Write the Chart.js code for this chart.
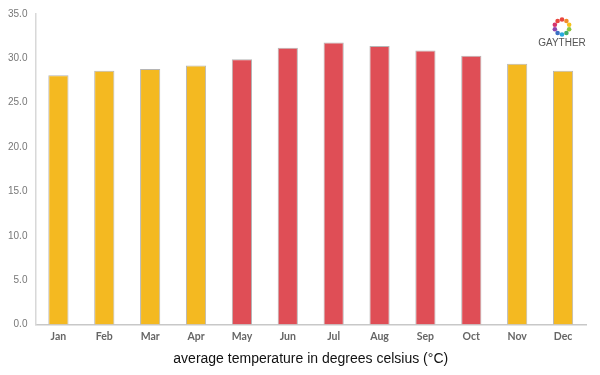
<!DOCTYPE html>
<html lang="en">
<head>
    <meta charset="UTF-8">
    <script src="https://cdn.jsdelivr.net/npm/chart.js"></script>
    <title>Average temperature</title>
    <style>
        body { margin: 0; background: #fff; }
        .canvas { width: 600px; height: 375px; }
    </style>
</head>
<body>
    <div class="canvas">
        <canvas id="grafico" width="600" height="375"></canvas>
    </div>
    <script>
        const meses = ["Jan", "Feb", "Mar", "Apr", "May", "Jun", "Jul", "Aug", "Sep", "Oct", "Nov", "Dec"];
        const temperaturas = [28.1, 28.6, 28.8, 29.2, 29.9, 31.2, 31.8, 31.4, 30.9, 30.3, 29.4, 28.6];
        const quentes = [false, false, false, false, true, true, true, true, true, true, false, false];
        const yTicks = [0, 5, 10, 15, 20, 25, 30, 35];

        const amarelo = '#F4B921';
        const vermelho = '#DF4E56';

        // logo in the top right corner
        const logo = {
            id: 'logo',
            afterDraw(chart) {
                const ctx = chart.ctx;
                const cx = 562, cy = 27;
                const cores = ['#e9463f', '#f28c28', '#f6c21c', '#8cc63f', '#3fae6a', '#29a9e0', '#3b6fc4', '#8e44ad', '#d6336c', '#e9463f'];
                ctx.save();
                for (let i = 0; i < 10; i++) {
                    const a = i / 10 * Math.PI * 2 - Math.PI / 2;
                    ctx.fillStyle = cores[i];
                    ctx.beginPath();
                    ctx.arc(cx + Math.cos(a) * 7.5, cy + Math.sin(a) * 7.5, 2.3, 0, Math.PI * 2);
                    ctx.fill();
                }
                ctx.fillStyle = '#555';
                ctx.font = '10px "Liberation Sans", Arial, sans-serif';
                ctx.textAlign = 'center';
                ctx.textBaseline = 'middle';
                ctx.fillText('GAYTHER', cx, 43);
                ctx.restore();
            }
        };

        const meuGrafico = document.getElementById('grafico');
        let grafico1 = new Chart(meuGrafico, {
            type: 'bar',
            data: {
                labels: meses,
                datasets: [{
                    data: temperaturas,
                    backgroundColor: quentes.map(q => q ? vermelho : amarelo),
                    borderColor: 'rgba(150,150,150,0.7)',
                    borderWidth: 1,
                    barPercentage: 0.44,
                    categoryPercentage: 1
                }]
            },
            options: {
                responsive: false,
                animation: false,
                layout: { padding: { top: 12, right: 14, bottom: 3, left: 0 } },
                plugins: {
                    legend: { display: false },
                    tooltip: { enabled: false }
                },
                scales: {
                    x: {
                        grid: { display: false, drawTicks: false },
                        border: { color: '#c8c8c8', width: 1.5 },
                        ticks: {
                            color: '#666',
                            padding: 6,
                            font: { family: 'Lato, "DejaVu Sans", sans-serif', size: 10.5, weight: 'bold' }
                        },
                        title: {
                            display: true,
                            text: 'average temperature in degrees celsius (°C)',
                            color: '#111',
                            padding: { top: 2 },
                            font: { family: '"Liberation Sans", Arial, sans-serif', size: 14 }
                        }
                    },
                    y: {
                        min: 0,
                        max: 35,
                        afterBuildTicks: axis => { axis.ticks = yTicks.map(v => ({ value: v })); },
                        grid: { display: false, drawTicks: false },
                        border: { color: '#d8d8d8', width: 1.5 },
                        ticks: {
                            color: '#777',
                            padding: 8,
                            callback: v => Number(v).toFixed(1),
                            font: { family: '"Liberation Sans", Arial, sans-serif', size: 10 }
                        }
                    }
                }
            },
            plugins: [logo]
        });
    </script>
</body>
</html>
